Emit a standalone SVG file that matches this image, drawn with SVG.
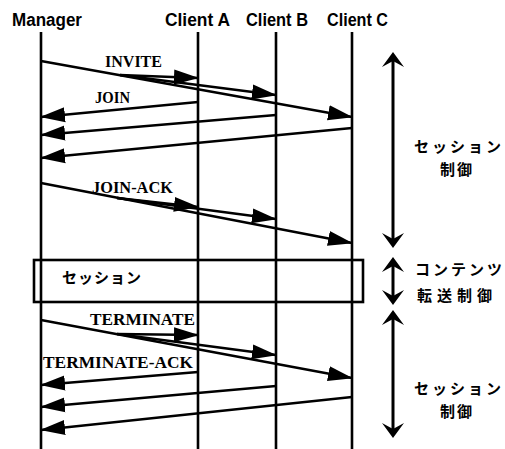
<svg xmlns="http://www.w3.org/2000/svg" width="505" height="449" viewBox="0 0 505 449">
<style>
.hdr{font-family:"Liberation Sans",Arial,sans-serif;font-size:18px;font-weight:bold;fill:#000}
.lbl{font-family:"Liberation Serif","Times New Roman",serif;font-size:16px;font-weight:bold;fill:#000}
.jp{font-family:"Noto Sans CJK JP","Noto Sans",sans-serif;font-size:15px;font-weight:bold;fill:#000}
.life{stroke:#000;stroke-width:2.6;fill:none}
.msg{stroke:#000;stroke-width:2.4;fill:none;marker-end:url(#ah)}
.phase{stroke:#000;stroke-width:3;fill:none}
.head{fill:#000}
</style>
<defs>
<marker id="ah" markerUnits="userSpaceOnUse" markerWidth="25" markerHeight="16" viewBox="0 0 25 16" refX="24" refY="8" orient="auto">
<path d="M0,0.5 L25,8 L0,15.5 Z" fill="#000"/>
</marker>
</defs>
<rect width="505" height="449" fill="#fff"/>
<g id="session-box">
<rect x="34" y="260" width="329" height="42" fill="#fff" stroke="#000" stroke-width="2.6"/>
<text class="jp" x="62" y="283" font-size="17" letter-spacing="1">セッション</text>
</g>
<g id="manager">
<text class="hdr" x="12" y="26" textLength="70" lengthAdjust="spacingAndGlyphs">Manager</text>
<line class="life" x1="41" y1="32" x2="41" y2="449"/>
</g>
<g id="client-a">
<text class="hdr" x="165" y="26" textLength="65" lengthAdjust="spacingAndGlyphs">Client A</text>
<line class="life" x1="198" y1="32" x2="198" y2="449"/>
</g>
<g id="client-b">
<text class="hdr" x="246" y="26" textLength="62" lengthAdjust="spacingAndGlyphs">Client B</text>
<line class="life" x1="276" y1="32" x2="276" y2="449"/>
</g>
<g id="client-c">
<text class="hdr" x="327" y="26" textLength="61" lengthAdjust="spacingAndGlyphs">Client C</text>
<line class="life" x1="352" y1="32" x2="352" y2="449"/>
</g>
<g id="connectors">
<!-- INVITE -->
<path class="msg" d="M41,61 L352,117"/>
<path class="msg" d="M120,75 L198,78"/>
<path class="msg" d="M120,75 L276,95"/>
<!-- JOIN -->
<path class="msg" d="M198,102 L41,117"/>
<path class="msg" d="M276,115 L41,135"/>
<path class="msg" d="M352,128 L41,158"/>
<!-- JOIN-ACK -->
<path class="msg" d="M41,183 L352,243"/>
<path class="msg" d="M117,198 L198,207"/>
<path class="msg" d="M117,198 L276,219"/>
<!-- TERMINATE -->
<path class="msg" d="M41,320 L352,378"/>
<path class="msg" d="M117,334 L198,335"/>
<path class="msg" d="M117,334 L276,355"/>
<!-- TERMINATE-ACK -->
<path class="msg" d="M198,372 L41,385"/>
<path class="msg" d="M276,386 L41,407"/>
<path class="msg" d="M352,397 L41,430"/>
<text class="lbl" x="105" y="67" textLength="57" lengthAdjust="spacingAndGlyphs">INVITE</text>
<text class="lbl" x="95" y="103" textLength="35" lengthAdjust="spacingAndGlyphs">JOIN</text>
<text class="lbl" x="92" y="193" textLength="81" lengthAdjust="spacingAndGlyphs">JOIN-ACK</text>
<text class="lbl" x="90" y="325" textLength="105" lengthAdjust="spacingAndGlyphs">TERMINATE</text>
<text class="lbl" x="43" y="368" textLength="150" lengthAdjust="spacingAndGlyphs">TERMINATE-ACK</text>
</g>
<g id="phase-session-1">
<line class="phase" x1="393" y1="60" x2="393" y2="240"/>
<polygon class="head" points="393,52 404,67 393,61 382,67"/>
<polygon class="head" points="393,248 404,233 393,239 382,233"/>
<text class="jp" x="459" y="152" text-anchor="middle" letter-spacing="3">セッション</text>
<text class="jp" x="457" y="175" text-anchor="middle" letter-spacing="2">制御</text>
</g>
<g id="phase-content">
<line class="phase" x1="393" y1="265" x2="393" y2="297"/>
<polygon class="head" points="393,257 404,272 393,266 382,272"/>
<polygon class="head" points="393,305 404,290 393,296 382,290"/>
<text class="jp" x="460" y="275" text-anchor="middle" letter-spacing="3">コンテンツ</text>
<text class="jp" x="457" y="301" text-anchor="middle" letter-spacing="5">転送制御</text>
</g>
<g id="phase-session-2">
<line class="phase" x1="393" y1="318" x2="393" y2="430"/>
<polygon class="head" points="393,310 404,325 393,319 382,325"/>
<polygon class="head" points="393,438 404,423 393,429 382,423"/>
<text class="jp" x="459" y="394" text-anchor="middle" letter-spacing="3">セッション</text>
<text class="jp" x="457" y="417" text-anchor="middle" letter-spacing="2">制御</text>
</g>
</svg>
